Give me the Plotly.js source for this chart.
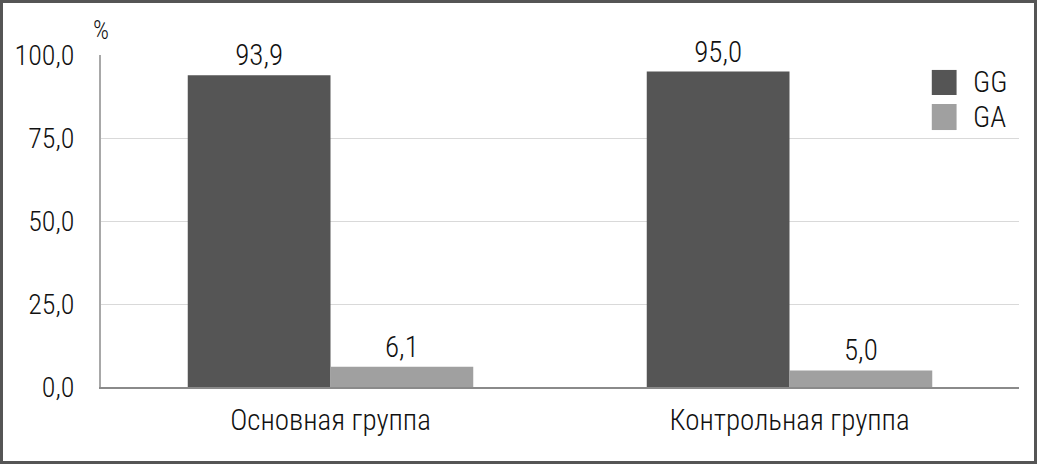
<!DOCTYPE html>
<html>
<head>
<meta charset="utf-8">
<script src="https://cdn.plot.ly/plotly-3.0.1.min.js"></script>
<style>
html,body{margin:0;padding:0;background:#fff;}
#chart{width:1031px;height:458px;border:3px solid #555555;}
</style>
</head>
<body>
<div id="chart"></div>
<script>
const categories = ["Основная группа", "Контрольная группа"];
const seriesNames = ["GG", "GA"];
const ggValues = [93.9, 95.0];
const gaValues = [6.1, 5.0];
const yTicks = [0, 25, 50, 75, 100];

const FONT = "'Roboto Condensed', 'Liberation Sans Narrow', 'DejaVu Sans Condensed', 'Arial Narrow', sans-serif";
const W = 300;
const colors = ["#555555", "#a0a0a0"];

const traces = [ggValues, gaValues].map((vals, i) => ({
  type: "bar",
  name: seriesNames[i],
  x: categories,
  y: vals,
  marker: {color: colors[i], line: {width: 0}},
  text: vals.map(v => v.toFixed(1).replace(".", ",")),
  textposition: "outside",
  textfont: {family: FONT, size: 29, color: "#111", weight: W},
  cliponaxis: false,
  hoverinfo: "none"
}));

const legX0 = 0.905, legX1 = 0.932, legTextX = 0.948;
const legRows = [{y0: 0.8795, y1: 0.955}, {y0: 0.774, y1: 0.8524}];
const shapes = legRows.map((r, i) => ({
  type: "rect", xref: "paper", yref: "paper",
  x0: legX0, x1: legX1, y0: r.y0, y1: r.y1,
  fillcolor: colors[i], line: {width: 0}
}));
const annotations = legRows.map((r, i) => ({
  xref: "paper", yref: "paper", x: legTextX, y: (r.y0 + r.y1) / 2,
  xanchor: "left", yanchor: "middle", showarrow: false,
  text: seriesNames[i], font: {family: FONT, size: 29, color: "#111", weight: W}
}));
annotations.push({
  xref: "paper", yref: "paper", x: 0, y: 1.075,
  xanchor: "center", yanchor: "middle", showarrow: false,
  text: "%", font: {family: FONT, size: 25, color: "#111", weight: W}
});

const layout = {
  width: 1031, height: 458,
  margin: {l: 98, r: 15, t: 52, b: 74},
  paper_bgcolor: "#fff", plot_bgcolor: "#fff",
  separators: ", ",
  barmode: "group",
  bargap: 0.378,
  bargroupgap: 0,
  showlegend: false,
  font: {family: FONT, size: 28, color: "#111", weight: W},
  xaxis: {
    type: "category",
    range: [-0.5, 1.5],
    showgrid: false,
    showline: true, linecolor: "#8a8a8a", linewidth: 2,
    ticks: "", ticklabelstandoff: 6,
    tickfont: {family: FONT, size: 29, color: "#111", weight: W},
    fixedrange: true
  },
  yaxis: {
    range: [0, 100],
    tickvals: yTicks,
    tickformat: ".1f",
    showgrid: true, gridcolor: "#d9d9d9", gridwidth: 1,
    showline: true, linecolor: "#a8a8a8", linewidth: 2,
    zeroline: false,
    ticks: "", ticklabelstandoff: 19,
    tickfont: {family: FONT, size: 28, color: "#111", weight: W},
    fixedrange: true
  },
  shapes: shapes,
  annotations: annotations
};

Plotly.newPlot("chart", traces, layout, {displayModeBar: false, staticPlot: true});
</script>
</body>
</html>
